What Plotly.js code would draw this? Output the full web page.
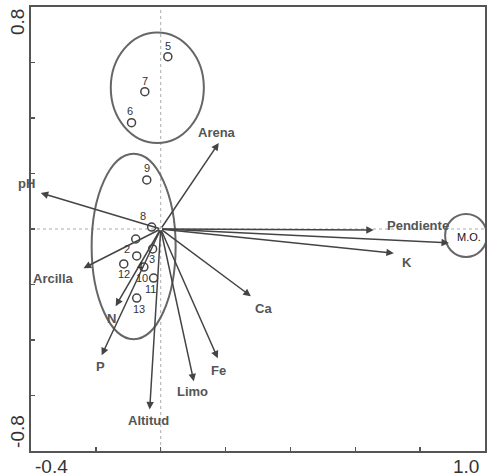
<!DOCTYPE html>
<html><head><meta charset="utf-8">
<script src="https://cdn.plot.ly/plotly-3.0.1.min.js"></script>
<style>html,body{margin:0;padding:0;background:#fff}#chart{width:496px;height:476px}</style>
</head><body><div id="chart"></div>
<script>
// Environmental variables (vector tips)
const varNames = ['pH','Arena','Pendiente','M.O.','K','Ca','Fe','Limo','Altitud','P','N','Arcilla'];
const varX = [-0.370, 0.179, 0.657, 0.889, 0.719, 0.278, 0.176, 0.102, -0.034, -0.182, -0.139, -0.238];
const varY = [0.130, 0.310, -0.004, -0.050, -0.087, -0.242, -0.466, -0.549, -0.650, -0.455, -0.278, -0.141];
// Sites
const siteNames = ['5','7','6','9','8','2','3','4','12','10','11','13'];
const siteX = [0.022, -0.049, -0.090, -0.043, -0.028, -0.077, -0.025, -0.074, -0.114, -0.052, -0.022, -0.074];
const siteY = [0.621, 0.495, 0.383, 0.177, 0.007, -0.036, -0.072, -0.097, -0.126, -0.137, -0.177, -0.249];
// Axis tick labels
const xTickLabels = ['-0.4','1.0'];
const yTickLabels = ['0.8','-0.8'];

// label pixel offsets (screen dx, dy down)
const varShift = [[-14,-9],[-2,-10],[44,-5],[20,-6],[13,9],[13,12],[1,12],[-1,10],[-1,11],[-1,11],[-4,12],[-30,10]];
const siteShift = [[0,-11],[0,-11],[-2,-12],[0,-12],[-9,-11],[-9,10],[-1,10],[3,10],[0,10],[-2,11],[-3,11],[2,11]];

const ann = [];
varNames.forEach((n,i)=>{
  ann.push({x:varX[i], y:varY[i], xref:'x', yref:'y', ax:0, ay:0, axref:'x', ayref:'y',
    text:'', showarrow:true, arrowhead:2, arrowsize:1, arrowwidth:1.5, arrowcolor:'#444'});
  const isMO = n==='M.O.';
  ann.push({x:varX[i], y:varY[i], xref:'x', yref:'y', text:isMO?n:'<b>'+n+'</b>', showarrow:false,
    xanchor:'center', yanchor:'middle',
    xshift:varShift[i][0], yshift:-varShift[i][1],
    font:{family:'Liberation Sans, Arial, sans-serif', size:isMO?11:13, color:isMO?'#111':'#555'}});
});
siteNames.forEach((n,i)=>{
  ann.push({x:siteX[i], y:siteY[i], xref:'x', yref:'y', text:n, showarrow:false,
    xanchor:'center', yanchor:'middle',
    xshift:siteShift[i][0], yshift:-siteShift[i][1],
    font:{family:'Liberation Sans, Arial, sans-serif', size:11, color:'#333'}});
});
const tf = {family:'Liberation Sans, Arial, sans-serif', size:19, color:'#333'};
const tk = {xref:'paper', yref:'paper', showarrow:false, xanchor:'center', yanchor:'middle', font:tf};
ann.push(Object.assign({}, tk, {x:0.046, y:-0.034, text:xTickLabels[0]}));
ann.push(Object.assign({}, tk, {x:0.959, y:-0.034, text:xTickLabels[1]}));
ann.push(Object.assign({}, tk, {x:-0.031, y:0.966, text:yTickLabels[0], textangle:-90}));
ann.push(Object.assign({}, tk, {x:-0.031, y:0.045, text:yTickLabels[1], textangle:-90}));

const ell = {type:'circle', xref:'x', yref:'y', line:{color:'#666', width:2}, layer:'above'};
const shapes = [
  {type:'line', xref:'x', yref:'paper', x0:0, x1:0, y0:0, y1:1, line:{color:'#aaa', width:1, dash:'dot'}, layer:'below'},
  {type:'line', xref:'paper', yref:'y', x0:0, x1:1, y0:0, y1:0, line:{color:'#aaa', width:1, dash:'dot'}, layer:'below'},
  Object.assign({}, ell, {x0:-0.154, x1:0.133, y0:0.310, y1:0.708}),
  Object.assign({}, ell, {x0:-0.213, x1:0.046, y0:-0.397, y1:0.271}),
  Object.assign({}, ell, {x0:0.877, x1:1.006, y0:-0.101, y1:0.054})
];

const trace = {x:siteX, y:siteY, mode:'markers', type:'scatter', hoverinfo:'skip',
  marker:{symbol:'circle-open', size:8, color:'#444', line:{width:1.5, color:'#444'}}};

const axBase = {showgrid:false, zeroline:false, showline:true, mirror:true, linecolor:'#555', linewidth:2,
  ticks:'inside', ticklen:4, tickcolor:'#555', tickwidth:1.5, showticklabels:false, dtick:0.2, tick0:0};
const layout = {
  width:496, height:476, margin:{l:31, r:11, t:7, b:25}, showlegend:false,
  paper_bgcolor:'#fff', plot_bgcolor:'#fff',
  xaxis:Object.assign({}, axBase, {range:[-0.4,1.0]}),
  yaxis:Object.assign({}, axBase, {range:[-0.8,0.8]}),
  annotations:ann, shapes:shapes
};
Plotly.newPlot('chart', [trace], layout, {staticPlot:true, displayModeBar:false});
</script></body></html>
